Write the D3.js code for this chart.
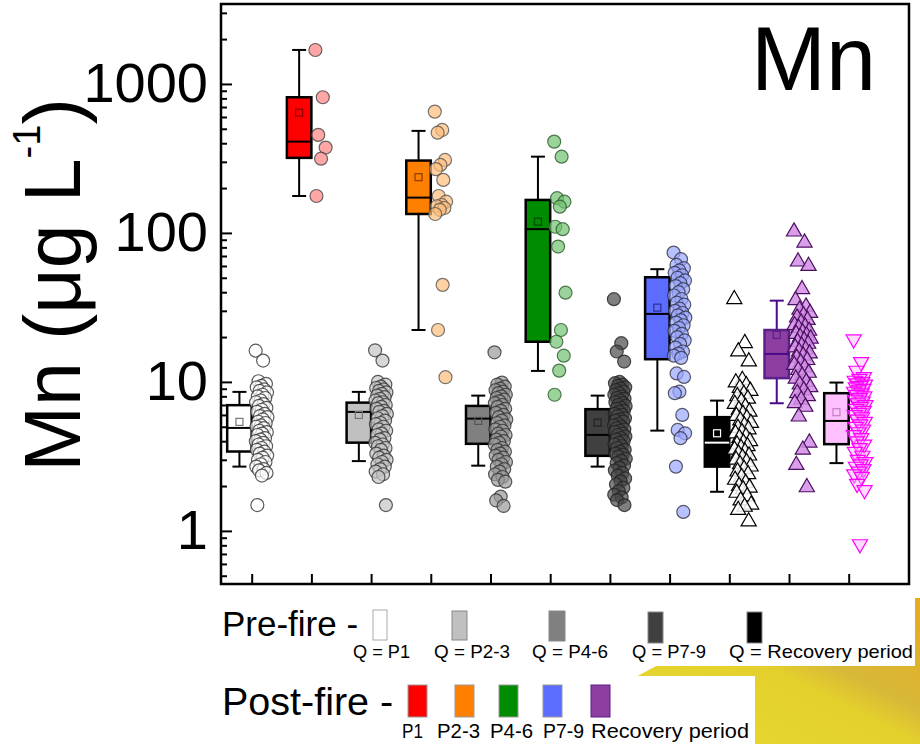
<!DOCTYPE html>
<html>
<head>
<meta charset="utf-8">
<script src="https://cdn.jsdelivr.net/npm/d3@7"></script>
<style>
  body { margin: 0; background: #fff; }
  svg { display: block; }
  text { font-family: "Liberation Sans", Arial, sans-serif; fill: #000; }
</style>
</head>
<body>
<svg id="chart" width="920" height="744"></svg>
<script>
// groups in x order (1..11), pre-fire and post-fire alternate
const groups = ["Pre P1", "Post P1", "Pre P2-3", "Post P2-3", "Pre P4-6", "Post P4-6",
                "Pre P7-9", "Post P7-9", "Pre Recovery", "Post Recovery", "Extra"];

// box statistics (ug/L)
const whiskerLow  = [2.70, 177, 2.94, 22.3, 2.74, 11.85, 2.70, 4.71, 1.83, 7.19, 2.85];
const q1          = [3.41, 319, 3.91, 134, 3.84, 18.6, 3.19, 14.2, 2.70, 10.6, 3.82];
const median      = [4.91, 410, 6.29, 172.6, 5.67, 106, 4.41, 28.6, 3.91, 15.4, 5.47];
const q3          = [6.98, 814, 7.26, 306, 6.90, 166.5, 6.56, 50.4, 5.80, 22.3, 8.40];
const whiskerHigh = [8.57, 1691, 8.57, 484, 8.09, 325, 8.09, 57.1, 7.49, 35.1, 9.90];
const means       = [5.39, 642, 6.00, 236.6, 5.47, 119, 5.33, 31.5, 4.52, 20.7, 6.26];

// individual samples per group
const prP1 = [16.2, 13.9, 10.1, 9.7, 9.4, 9.2, 8.9, 8.7, 8.5, 8.2, 8.0, 7.8, 7.5, 7.3, 7.1, 6.9, 6.7, 6.5,
  6.3, 6.1, 5.9, 5.8, 5.6, 5.4, 5.3, 5.1, 5.0, 4.9, 4.7, 4.6, 4.5, 4.4, 4.2, 4.1, 4.0, 3.9, 3.8, 3.7,
  3.6, 3.5, 3.4, 3.3, 3.2, 3.1, 3.0, 2.9, 2.8, 2.7, 2.6, 2.55, 2.45, 2.35, 1.49];
const poP1 = [1690, 814, 455, 374, 315, 177];
const prP23 = [16.3, 13.9, 10.0, 9.6, 9.3, 9.1, 8.9, 8.7, 8.5, 8.3, 8.1, 7.9, 7.7, 7.5, 7.3, 7.2, 7.0, 6.8,
  6.6, 6.4, 6.3, 6.1, 5.9, 5.7, 5.5, 5.3, 5.2, 5.0, 4.8, 4.7, 4.5, 4.4, 4.2, 4.1, 3.9, 3.8, 3.7, 3.6,
  3.5, 3.3, 3.2, 3.1, 3.0, 2.9, 2.8, 2.7, 2.6, 2.5, 2.4, 2.3, 1.49];
const poP23 = [652, 491, 471, 309, 286, 268, 227, 177, 162, 154, 151, 147, 143, 134, 44.8, 22.3, 10.75];
const prP46 = [15.8, 9.9, 9.6, 9.3, 9.0, 8.8, 8.6, 8.4, 8.2, 8.0, 7.8, 7.6, 7.4, 7.2, 7.0, 6.8, 6.6, 6.4,
  6.2, 6.0, 5.8, 5.6, 5.5, 5.3, 5.1, 5.0, 4.8, 4.7, 4.5, 4.4, 4.3, 4.1, 4.0, 3.9, 3.8, 3.6, 3.5, 3.4,
  3.3, 3.2, 3.1, 3.0, 2.9, 2.8, 2.7, 2.6, 2.5, 2.4, 2.3, 2.2, 2.14, 1.70, 1.60, 1.47];
const poP46 = [410, 325, 171, 162, 150, 110, 106, 81, 39.7, 22.3, 18.6, 15.0, 11.9, 8.2];
const prP79 = [35.9, 18.2, 16.0, 13.7, 10.0, 9.8, 9.6, 9.4, 9.2, 9.0, 8.8, 8.6, 8.4, 8.2, 8.0, 7.8, 7.7,
  7.5, 7.3, 7.2, 7.0, 6.9, 6.7, 6.6, 6.4, 6.3, 6.1, 6.0, 5.9, 5.7, 5.6, 5.5, 5.4, 5.2, 5.1, 5.0, 4.9,
  4.8, 4.7, 4.6, 4.5, 4.4, 4.3, 4.2, 4.1, 4.0, 3.9, 3.8, 3.7, 3.6, 3.5, 3.4, 3.3, 3.25, 3.15, 3.05,
  2.95, 2.85, 2.75, 2.65, 2.55, 2.45, 2.35, 2.25, 2.15, 2.05, 1.95, 1.85, 1.75, 1.68, 1.61, 1.49];
const poP79 = [73.8, 66.6, 61, 58, 56, 54, 52, 50, 48, 46, 44, 42, 40, 38, 36, 34, 33, 31, 30, 29, 28,
  27, 26, 25, 24, 23, 22, 21, 20, 19, 18, 17, 16, 15.5, 15, 14.5, 11.4, 10.8, 8.6, 8.4, 6.0, 4.76,
  4.52, 4.19, 2.70, 1.34];
const prRec = [35.9, 18.2, 16.0, 13.7, 10.3, 9.9, 9.5, 9.1, 8.7, 8.3, 8.0, 7.7, 7.4, 7.1, 6.8, 6.5, 6.3,
  6.1, 5.9, 5.7, 5.5, 5.3, 5.1, 4.9, 4.8, 4.6, 4.5, 4.3, 4.2, 4.0, 3.9, 3.8, 3.7, 3.6, 3.5, 3.4, 3.3,
  3.2, 3.1, 3.0, 2.9, 2.8, 2.7, 2.6, 2.5, 2.4, 2.3, 2.2, 2.1, 2.0, 1.95, 1.9, 1.8, 1.7, 1.6, 1.5,
  1.45, 1.38, 1.155];
const poRec = [102, 86, 64.2, 60, 41.9, 35.3, 32, 30.5, 29, 28, 27, 26, 25, 24, 23.5, 23, 22, 21.5, 21,
  20.5, 20, 19.5, 19, 18.5, 18, 17.5, 17, 16.5, 16, 15.5, 15, 14.5, 14, 13.5, 13, 12.5, 12, 11.5, 11,
  10.5, 10, 9.6, 9.2, 8.8, 8.4, 8.0, 7.6, 7.2, 6.8, 5.85, 3.91, 3.5, 2.77, 1.96];
const extra = [19.3, 13.6, 11.9, 10.8, 10.5, 10.2, 10.0, 9.8, 9.6, 9.4, 9.2, 9.0, 8.8, 8.6, 8.4, 8.2, 8.0,
  7.8, 7.6, 7.4, 7.2, 7.0, 6.8, 6.6, 6.4, 6.2, 6.0, 5.8, 5.6, 5.4, 5.2, 5.0, 4.8, 4.6, 4.4, 4.2, 4.0,
  3.8, 3.6, 3.4, 3.2, 3.0, 2.9, 2.8, 2.7, 2.6, 2.5, 2.4, 2.31, 2.07, 1.88, 0.815];
const samples = [prP1, poP1, prP23, poP23, prP46, poP46, prP79, poP79, prRec, poRec, extra];

const majorTicks = [1, 10, 100, 1000];
const preLabels = ["Q = P1", "Q = P2-3", "Q = P4-6", "Q = P7-9", "Q = Recovery period"];
const postLabels = ["P1", "P2-3", "P4-6", "P7-9", "Recovery period"];

// styles
const boxFill   = ["#ffffff", "#ff0000", "#c0c0c0", "#ff8000", "#808080", "#008c00",
                   "#404040", "#5b6cff", "#000000", "#8c3fa0", "#ffc0ff"];
const boxStroke = ["#000", "#000", "#000", "#000", "#000", "#000", "#000", "#000", "#000", "#5b1f8a", "#000"];
const inner     = ["#000", "#000", "#000", "#000", "#000", "#000", "#000", "#000", "#fff", "#4a0a8a", "#000"];
const meanStroke = ["#777", "#8b0000", "#777", "#8b3a00", "#555", "#004a00", "#222", "#2a3090", "#fff", "#5b1f8a", "#c080c0"];
const ptFill    = ["#ffffff", "#ff8080", "#c4c4c4", "#ffbd7a", "#9a9a9a", "#70c270",
                   "#4a4a4a", "#9aa6ff", "#ffffff", "#d48ee6", "#ffb0ff"];
const ptStroke  = ["#333", "#444", "#333", "#555", "#333", "#2a5a2a", "#222", "#334", "#000", "#4a1060", "#ff00ff"];
const ptShape   = ["c", "c", "c", "c", "c", "c", "c", "c", "up", "up", "down"];

const svg = d3.select("#chart");
const plot = { left: 221, right: 909, top: 4, bottom: 584 };
const x = d3.scaleLinear().domain([0.486, 12.01]).range([plot.left, plot.right]);
const y = d3.scaleLog().domain([0.44, 3440]).range([plot.bottom, plot.top]);

// ---- bottom-right decoration behind the legend
const defs = svg.append("defs");
const grad = defs.append("linearGradient").attr("id", "gold")
  .attr("x1", "0").attr("y1", "1").attr("x2", "1").attr("y2", "0");
grad.append("stop").attr("offset", "0").attr("stop-color", "#e8da30");
grad.append("stop").attr("offset", "0.5").attr("stop-color", "#e4d02c");
grad.append("stop").attr("offset", "0.62").attr("stop-color", "#d8b838");
grad.append("stop").attr("offset", "1").attr("stop-color", "#eaa91c");
svg.append("path").attr("d", "M630,680 L660,664 L915,598 L920,598 L920,744 L630,744 Z").attr("fill", "url(#gold)");
svg.append("rect").attr("x", 0).attr("y", 590).attr("width", 915).attr("height", 76).attr("fill", "#fff");
svg.append("rect").attr("x", 0).attr("y", 676).attr("width", 755).attr("height", 68).attr("fill", "#fff");

// ---- axes (ticks inward)
const minorTicks = [];
[0.1, 1, 10, 100, 1000].forEach(d => {
  for (let k = 2; k <= 9; k++) {
    const v = d * k;
    if (v >= 0.44 && v <= 3440) minorTicks.push(v);
  }
});
const yMinor = svg.append("g").attr("transform", `translate(${plot.left},0)`)
  .call(d3.axisLeft(y).tickValues(minorTicks).tickSize(-6).tickFormat(""));
const yMajor = svg.append("g").attr("transform", `translate(${plot.left},0)`)
  .call(d3.axisLeft(y).tickValues(majorTicks).tickSize(-11).tickPadding(13).tickFormat(d3.format("d")));
const xAxis = svg.append("g").attr("transform", `translate(0,${plot.bottom})`)
  .call(d3.axisBottom(x).tickValues(d3.range(1, 12)).tickSize(-10).tickFormat(""));
[yMinor, yMajor, xAxis].forEach(a => {
  a.select(".domain").remove();
  a.selectAll(".tick line").attr("stroke", "#000").attr("stroke-width", 2);
});
yMajor.selectAll(".tick text").attr("font-size", 56).attr("fill", "#000")
  .attr("font-family", "'Liberation Sans', Arial, sans-serif");

// ---- boxes
const boxW = 24.5, capW = 14;
groups.forEach((g, i) => {
  const cx = x(i + 1);
  const mid = cx - boxW / 2;
  const wc = boxStroke[i] === "#000" ? "#000" : inner[i];
  const grp = svg.append("g").attr("class", "box");
  grp.append("line").attr("x1", mid).attr("x2", mid).attr("y1", y(whiskerHigh[i])).attr("y2", y(q3[i]))
    .attr("stroke", wc).attr("stroke-width", 2);
  grp.append("line").attr("x1", mid).attr("x2", mid).attr("y1", y(q1[i])).attr("y2", y(whiskerLow[i]))
    .attr("stroke", wc).attr("stroke-width", 2);
  [whiskerHigh[i], whiskerLow[i]].forEach(v => {
    grp.append("line").attr("x1", mid - capW / 2).attr("x2", mid + capW / 2).attr("y1", y(v)).attr("y2", y(v))
      .attr("stroke", wc).attr("stroke-width", 2);
  });
  grp.append("rect").attr("x", cx - boxW).attr("y", y(q3[i]))
    .attr("width", boxW).attr("height", y(q1[i]) - y(q3[i]))
    .attr("fill", boxFill[i]).attr("stroke", boxStroke[i]).attr("stroke-width", 2.5);
  grp.append("line").attr("x1", cx - boxW).attr("x2", cx).attr("y1", y(median[i])).attr("y2", y(median[i]))
    .attr("stroke", inner[i]).attr("stroke-width", 2);
  grp.append("rect").attr("x", mid - 3.5).attr("y", y(means[i]) - 3.5).attr("width", 7).attr("height", 7)
    .attr("fill", "none").attr("stroke", meanStroke[i]).attr("stroke-width", 1.2);
});

// ---- data points, packed in a narrow column right of each box
const tri = d3.symbol(d3.symbolTriangle, 100);
groups.forEach((g, i) => {
  const vals = samples[i];
  const isCircle = ptShape[i] === "c";
  const start = isCircle ? 4 : 5;
  const spread = isCircle ? 12 : (ptShape[i] === "down" ? 12 : 17);
  const layer = svg.append("g").attr("class", "pts");
  vals.forEach((v, j) => {
    const px = x(i + 1) + start + spread * ((j * 0.618034) % 1);
    const py = y(v);
    if (isCircle) {
      layer.append("circle").attr("cx", px).attr("cy", py).attr("r", 6.5)
        .attr("fill", ptFill[i]).attr("fill-opacity", 0.7)
        .attr("stroke", ptStroke[i]).attr("stroke-opacity", 0.8).attr("stroke-width", 1.2);
    } else {
      const rot = ptShape[i] === "down" ? 180 : 0;
      layer.append("path").attr("d", tri)
        .attr("transform", `translate(${px},${py}) rotate(${rot})`)
        .attr("fill", ptFill[i]).attr("fill-opacity", ptShape[i] === "down" ? 0.45 : 0.85)
        .attr("stroke", ptStroke[i]).attr("stroke-width", 1.2);
    }
  });
});

// ---- frame
svg.append("rect").attr("x", plot.left).attr("y", plot.top)
  .attr("width", plot.right - plot.left).attr("height", plot.bottom - plot.top)
  .attr("fill", "none").attr("stroke", "#000").attr("stroke-width", 2.5);

// ---- titles
svg.append("text").attr("x", 751).attr("y", 90).attr("font-size", 90).text("Mn");
const yl = svg.append("text").attr("transform", "translate(80,285) rotate(-90)")
  .attr("text-anchor", "middle").attr("font-size", 79);
yl.append("tspan").text("Mn (\u03bcg L");
yl.append("tspan").attr("font-size", 38).attr("dy", -40).text("-1");
yl.append("tspan").attr("dy", 40).text(")");

// ---- legend
const preSw = [[373, 610, 14, 30], [452, 611, 15, 29], [549, 611, 16, 30], [648, 612, 15, 31], [747, 612, 15, 31]];
const preColors = [boxFill[0], boxFill[2], boxFill[4], boxFill[6], boxFill[8]];
const preTx = [[353, 57], [434, 76], [532, 76], [632, 74], [729, 184]];
svg.append("text").attr("x", 222).attr("y", 636).attr("font-size", 35).text("Pre-fire -");
preSw.forEach((s, k) => {
  svg.append("rect").attr("x", s[0]).attr("y", s[1]).attr("width", s[2]).attr("height", s[3])
    .attr("fill", preColors[k]).attr("stroke", k === 0 ? "#aaa" : "#888").attr("stroke-width", 1);
  svg.append("text").attr("x", preTx[k][0]).attr("y", 658).attr("font-size", 19)
    .attr("textLength", preTx[k][1]).attr("lengthAdjust", "spacingAndGlyphs").text(preLabels[k]);
});
const postSw = [408, 455, 499, 543, 591];
const postColors = [boxFill[1], boxFill[3], boxFill[5], boxFill[7], boxFill[9]];
const postTx = [[402, 21], [437, 43], [490, 43], [543, 41], [591, 158]];
svg.append("text").attr("x", 222).attr("y", 715).attr("font-size", 39.5).text("Post-fire -");
postSw.forEach((sx, k) => {
  svg.append("rect").attr("x", sx).attr("y", 685).attr("width", 19).attr("height", 32)
    .attr("fill", postColors[k]).attr("stroke", k === 4 ? "#5b1f8a" : "#999").attr("stroke-width", 1);
  svg.append("text").attr("x", postTx[k][0]).attr("y", 738).attr("font-size", 21)
    .attr("textLength", postTx[k][1]).attr("lengthAdjust", "spacingAndGlyphs").text(postLabels[k]);
});
</script>
</body>
</html>
